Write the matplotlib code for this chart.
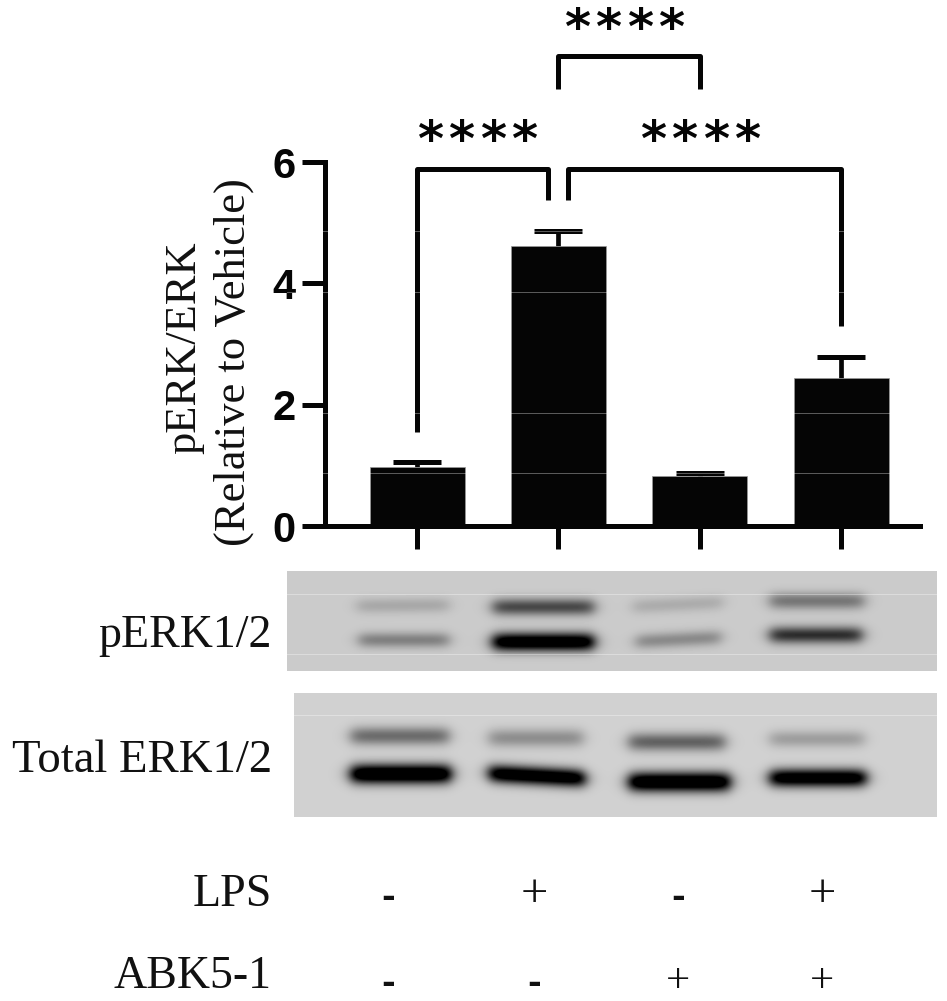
import numpy as np
import matplotlib
matplotlib.use("Agg")
import matplotlib.pyplot as plt
from matplotlib.lines import Line2D

W, H = 947, 1001

# ---- data -----
bar_values = [0.98, 4.62, 0.82, 2.44]
bar_errors = [0.07, 0.24, 0.06, 0.35]
y_ticks = [0, 2, 4, 6]
# brackets: x_left, x_right, y_top, y_end_left, y_end_right
bracket_a = [0, 0.925, 5.88, 1.55, 5.37]
bracket_b = [1.071, 3, 5.88, 5.37, 3.3]
bracket_c = [1, 2, 7.74, 7.21, 7.21]
row_lps = ["-", "+", "-", "+"]
row_abk = ["-", "-", "+", "+"]
row_x = [388, 534, 678, 822]

# blot bands: x0, x1, y_left, y_right, band gray level, sigma (reference pixels)
blot1_bands = [
    (349, 457, 606, 605, 168, 5.5), (485, 602, 607, 607, 72, 6.0),
    (625, 731, 607, 602, 172, 5.5), (762, 872, 601, 601, 118, 6.0),
    (351, 457, 640, 640, 128, 5.5), (485, 602, 642, 642, -50, 6.5),
    (628, 729, 642, 637, 138, 5.5), (762, 870, 635, 635, 45, 6.0),
]
blot2_bands = [
    (343, 457, 736, 736, 108, 6.5), (481, 591, 738, 738, 142, 6.5),
    (621, 733, 742, 742, 98, 6.5), (762, 872, 739, 739, 158, 6.0),
    (343, 459, 774, 774, -70, 7.0), (481, 593, 773, 779, -50, 6.5),
    (621, 738, 782, 782, -65, 7.0), (762, 874, 778, 778, -45, 6.5),
]
blot1_box = (287, 937, 571, 671)
blot2_box = (294, 937, 693, 817)
blot1_bg, blot2_bg = 203, 209
seams_px = [(231, 287, 937), (292, 287, 937), (413, 287, 937), (473, 287, 937),
            (594, 287, 937), (654, 287, 937), (715, 294, 937)]

serif = ["Liberation Serif", "DejaVu Serif"]
bold_sans = ["Liberation Sans", "DejaVu Sans"]

fig = plt.figure(figsize=(W / 100, H / 100), dpi=100, facecolor="white")

def fx(x):
    return x / W

def fy(y):
    return 1 - y / H

# ---- bar chart -----
PX_LEFT, PX_RIGHT, PX_Y0, PX_Y6 = 325, 920, 526, 162
ax = fig.add_axes([fx(PX_LEFT), fy(PX_Y0), (PX_RIGHT - PX_LEFT) / W, (PX_Y0 - PX_Y6) / H])
ax.set_facecolor("none")
x = np.arange(len(bar_values))
ax.bar(x, bar_values, width=95 / 141.4, color="#050505", edgecolor="#9a9a9a", linewidth=0.5, zorder=2)
eb = ax.errorbar(x, bar_values, yerr=[np.zeros(4), bar_errors], fmt="none", ecolor="#050505",
                 elinewidth=3.4, capsize=17, capthick=3.6, zorder=1)
eb[1][0].set_visible(False)
ax.set_xlim((PX_LEFT - 417) / 141.4, (PX_RIGHT - 417) / 141.4)
ax.set_ylim(0, 6)
ax.set_yticks(y_ticks)
ax.set_xticks(x)
ax.set_xticklabels([])
for s in ("top", "right"):
    ax.spines[s].set_visible(False)
for s in ("left", "bottom"):
    ax.spines[s].set_linewidth(3.6)
    ax.spines[s].set_color("#050505")
ax.tick_params(axis="both", length=16.5, width=3.6, color="#050505")
ax.tick_params(axis="y", pad=5)
for t in ax.get_yticklabels():
    t.set_fontfamily(bold_sans)
    t.set_fontweight("bold")
    t.set_fontsize(30)
    t.set_color("#050505")

for b in (bracket_a, bracket_b, bracket_c):
    ax.plot([b[0], b[0], b[1], b[1]], [b[3], b[2], b[2], b[4]], color="#050505", lw=3.6,
            clip_on=False, solid_joinstyle="round", solid_capstyle="butt", zorder=3)

for sx, sy in [(624, 44), (477, 156), (700, 156)]:
    for k in range(4):
        fig.text(fx(sx + (k - 1.5) * 31.3), fy(sy), "*", family="DejaVu Sans", weight="bold",
                 fontsize=36, ha="center", va="baseline", color="#050505")

# ---- axis titles -----
fig.text(fx(184), fy(348), "pERK/ERK", family=serif, fontsize=32, rotation=90,
         ha="center", va="center", color="#111111")
fig.text(fx(234), fy(362), "(Relative to Vehicle)", family=serif, fontsize=32, rotation=90,
         ha="center", va="center", color="#111111")

# ---- blots -----
def draw_blot(box, bg, bands):
    x0, x1, y0, y1 = box
    xs = np.arange(x0, x1) + 0.5
    ys = np.arange(y0, y1) + 0.5
    X, Y = np.meshgrid(xs, ys)
    img = np.full(X.shape, float(bg))
    for (a, b, yl, yr, gray, sig) in bands:
        t = np.clip((X - a) / (b - a), 0, 1)
        yc = yl + (yr - yl) * t
        prof_x = 0.5 * (np.tanh((X - a - 8) / 8) - np.tanh((X - b + 8) / 8))
        img -= (bg - gray) * prof_x * np.exp(-0.5 * ((Y - yc) / sig) ** 2)
    img = np.clip(img, 0, 255)
    a = fig.add_axes([fx(x0), fy(y1), (x1 - x0) / W, (y1 - y0) / H])
    a.imshow(img, cmap="gray", vmin=0, vmax=255, aspect="auto", interpolation="bilinear")
    a.axis("off")

draw_blot(blot1_box, blot1_bg, blot1_bands)
draw_blot(blot2_box, blot2_bg, blot2_bands)

# ---- seams -----
seam_ax = fig.add_axes([0, 0, 1, 1], facecolor="none")
seam_ax.set_xlim(0, W)
seam_ax.set_ylim(H, 0)
seam_ax.axis("off")
for y_s, xa, xb in seams_px:
    seam_ax.add_line(Line2D([xa, xb], [y_s, y_s], color="white", lw=0.7, alpha=0.35))

# ---- labels -----
for text, y, size in [("pERK1/2", 647, 33), ("Total ERK1/2", 772, 33.7), ("LPS", 906, 33), ("ABK5-1", 988, 33)]:
    fig.text(fx(272), fy(y), text, family=serif, fontsize=size, ha="right", va="baseline", color="#111111")
for row, plus_y, dash_y in [(row_lps, 907, 907), (row_abk, 991.5, 992.5)]:
    for sx, s in zip(row_x, row):
        if s == "+":
            fig.text(fx(sx), fy(plus_y), s, family=serif, fontsize=31 if plus_y > 950 else 35,
                     ha="center", va="baseline", color="#111111")
        else:
            fig.text(fx(sx), fy(dash_y), s, family="DejaVu Sans", weight="bold", fontsize=24,
                     ha="center", va="baseline", color="#111111")

fig.savefig("out.png", dpi=100, facecolor="white")
